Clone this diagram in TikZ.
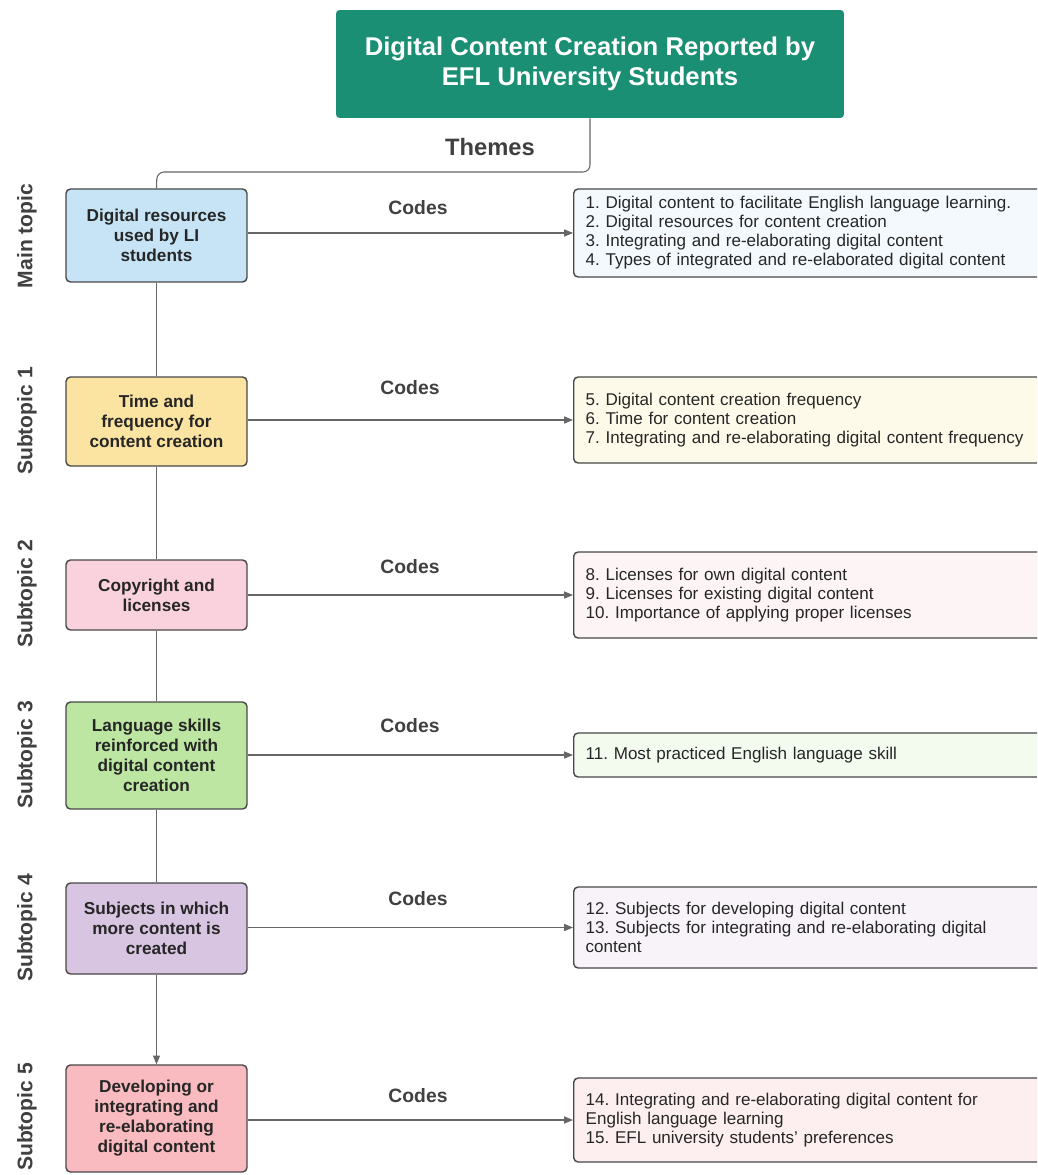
\documentclass[tikz,border=0pt]{standalone}
\usepackage{fontspec}
\setmainfont{Liberation Sans}
\usetikzlibrary{arrows.meta}
\frenchspacing

\definecolor{titlegreen}{HTML}{1A8F73}
\definecolor{topicblue}{HTML}{C6E4F5}
\definecolor{topicyellow}{HTML}{FBE3A1}
\definecolor{topicpink}{HTML}{F9D2DD}
\definecolor{topicgreen}{HTML}{BCE6A2}
\definecolor{topicpurple}{HTML}{D8C5E1}
\definecolor{topicred}{HTML}{F9BBC0}
\definecolor{codeblue}{HTML}{F4F9FD}
\definecolor{codeyellow}{HTML}{FEFAEA}
\definecolor{codepink}{HTML}{FDF4F6}
\definecolor{codegreen}{HTML}{F3FAEE}
\definecolor{codepurple}{HTML}{F7F3F9}
\definecolor{codered}{HTML}{FDEFEF}

\tikzset{
  titlebox/.style={fill=titlegreen, rounded corners=2pt, text=white, font=\fontsize{14.6}{17}\selectfont\bfseries,
    align=center, minimum width=10.16cm, minimum height=2.16cm},
  topicbox/.style={draw=black!72, line width=0.8pt, rounded corners=2.5pt, text=black!85,
    font=\fontsize{9.8}{11.4}\selectfont\bfseries, align=center, minimum width=3.62cm},
  codebox/.style={draw=black!72, line width=0.8pt, rounded corners=2.5pt, text=black!85, anchor=west,
    font=\fontsize{9.7}{10.8}\selectfont, align=left, inner xsep=0.24cm, text width=9.26cm},
  sidelabel/.style={rotate=90, text=black!75, font=\fontsize{12}{14}\selectfont\bfseries},
  codelabel/.style={text=black!75, font=\fontsize{11}{13}\selectfont\bfseries},
  link/.style={draw=black!60, line width=0.6pt},
  linkarrow/.style={link, -{Triangle[length=5pt,width=4pt]}}
}

\begin{document}
\begin{tikzpicture}[x=0.02cm, y=-0.02cm]
    \clip (0,0) rectangle (1037,1175);
    \fill[white] (0,0) rectangle (1037,1175);

    % title and themes
    \node[titlebox] (title) at (590, 64) {Digital Content Creation Reported by\\EFL University Students};
    \node[codelabel, font=\fontsize{13.5}{15}\selectfont\bfseries] (themes) at (490, 147) {Themes};

    % topics
    \node[topicbox, fill=topicblue, minimum height=1.86cm] (t1) at (156.5, 235.5) {Digital resources\\used by LI\\students};
    \node[topicbox, fill=topicyellow, minimum height=1.78cm] (t2) at (156.5, 421.5) {Time and\\frequency for\\content creation};
    \node[topicbox, fill=topicpink, minimum height=1.40cm] (t3) at (156.5, 595) {Copyright and\\licenses};
    \node[topicbox, fill=topicgreen, minimum height=2.14cm] (t4) at (156.5, 755.5) {Language skills\\reinforced with\\digital content\\creation};
    \node[topicbox, fill=topicpurple, minimum height=1.82cm] (t5) at (156.5, 928.5) {Subjects in which\\more content is\\created};
    \node[topicbox, fill=topicred, minimum height=2.14cm] (t6) at (156.5, 1118.5) {Developing or\\integrating and\\re-elaborating\\digital content};

    % side labels
    \node[sidelabel] (s1) at (27, 236) {Main topic};
    \node[sidelabel] (s2) at (27, 421) {Subtopic 1};
    \node[sidelabel] (s3) at (27, 594) {Subtopic 2};
    \node[sidelabel] (s4) at (27, 755) {Subtopic 3};
    \node[sidelabel] (s5) at (27, 928) {Subtopic 4};
    \node[sidelabel] (s6) at (27, 1117) {Subtopic 5};

    % codes
    \node[codebox, fill=codeblue, minimum height=1.76cm] (c1) at (573, 233) {1. Digital content to facilitate English language learning.\\2. Digital resources for content creation\\3. Integrating and re-elaborating digital content\\4. Types of integrated and re-elaborated digital content};
    \node[codebox, fill=codeyellow, minimum height=1.72cm] (c2) at (573, 420) {5. Digital content creation frequency\\6. Time for content creation\\7. Integrating and re-elaborating digital content frequency};
    \node[codebox, fill=codepink, minimum height=1.72cm] (c3) at (573, 595) {8. Licenses for own digital content\\9. Licenses for existing digital content\\10. Importance of applying proper licenses\\[4pt]};
    \node[codebox, fill=codegreen, minimum height=0.88cm] (c4) at (573, 755) {11. Most practiced English language skill};
    \node[codebox, fill=codepurple, minimum height=1.62cm] (c5) at (573, 927.5) {12. Subjects for developing digital content\\13. Subjects for integrating and re-elaborating digital\\content};
    \node[codebox, fill=codered, minimum height=1.68cm] (c6) at (573, 1120) {14. Integrating and re-elaborating digital content for\\English language learning\\15. EFL university students' preferences};

    \node[codelabel] (k1) at (418, 208) {Codes};
    \node[codelabel] (k2) at (410, 388) {Codes};
    \node[codelabel] (k3) at (410, 567) {Codes};
    \node[codelabel] (k4) at (410, 726) {Codes};
    \node[codelabel] (k5) at (418, 899) {Codes};
    \node[codelabel] (k6) at (418, 1096) {Codes};

    % connectors
    \coordinate (bend) at (157, 172);
    \draw[link, rounded corners=4pt] (title.south) |- (bend) -- (t1.north);
    \draw[link] (t1) -- (t2);
    \draw[link] (t2) -- (t3);
    \draw[link] (t3) -- (t4);
    \draw[link] (t4) -- (t5);
    \draw[linkarrow] (t5) -- (t6);
    \foreach \i in {1,...,6}
        \draw[linkarrow] (c\i.west -| t\i.east) -- (c\i.west);
\end{tikzpicture}
\end{document}
